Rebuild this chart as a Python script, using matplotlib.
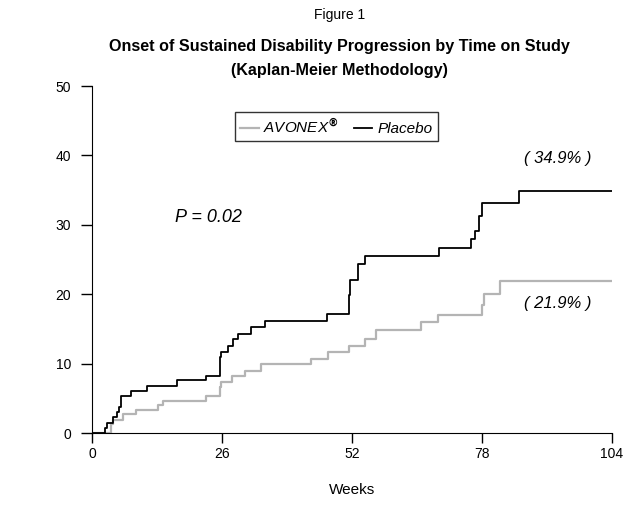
import numpy as np
import matplotlib
matplotlib.use("Agg")
import matplotlib.pyplot as plt

plt.rcParams['font.family'] = ['Liberation Sans', 'DejaVu Sans']

# Kaplan-Meier steps: week of event, cumulative % progressed after it
placebo_weeks = [0, 2.6, 3.05, 4.1, 5.0, 5.4, 5.7, 7.8, 10.9, 16.9, 22.8, 25.6, 25.8,
                 27.2, 28.2, 29.2, 31.8, 34.5, 46.9, 51.4, 51.6, 53.2, 54.6, 69.3,
                 75.8, 76.5, 77.4, 77.9, 85.3, 104]
placebo_pct = [0, 0.7, 1.4, 2.3, 3.0, 3.75, 5.3, 6.1, 6.8, 7.6, 8.2, 11.0, 11.7,
               12.5, 13.5, 14.3, 15.25, 16.2, 17.2, 19.9, 22.0, 24.3, 25.5, 26.6,
               27.9, 29.1, 31.2, 33.1, 34.9, 34.9]

avonex_weeks = [0, 3.8, 4.2, 6.1, 8.8, 13.2, 14.1, 22.8, 25.6, 25.8, 28.0, 30.6, 33.7,
                43.8, 47.1, 51.3, 54.6, 56.7, 65.7, 69.2, 77.9, 78.3, 81.6, 104]
avonex_pct = [0, 1.3, 1.9, 2.7, 3.35, 4.0, 4.6, 5.3, 6.7, 7.4, 8.2, 8.95, 9.9,
              10.7, 11.7, 12.5, 13.6, 14.8, 16.0, 17.0, 18.4, 20.0, 21.9, 21.9]

x_ticks = [0, 26, 52, 78, 104]
y_ticks = [0, 10, 20, 30, 40, 50]

fig = plt.figure(figsize=(6.29, 5.08), dpi=100)
ax = fig.add_axes([0.1463, 0.1476, 0.8267, 0.6831])

ax.step(avonex_weeks, avonex_pct, where='post', color='#b4b4b4', lw=1.6,
        label='AVONEX$^{\\mathbf{®}}$')
ax.step(placebo_weeks, placebo_pct, where='post', color='black', lw=1.3,
        label='Placebo')

ax.set_xlim(0, 104)
ax.set_ylim(0, 50)
ax.set_xticks(x_ticks)
ax.set_yticks(y_ticks)
ax.spines['top'].set_visible(False)
ax.spines['right'].set_visible(False)
ax.tick_params(direction='out', length=8, width=1, labelsize=10, pad=7)
ax.tick_params(axis='x', length=7, pad=3)
ax.set_xlabel('Weeks', fontsize=11, labelpad=16)

leg = ax.legend(loc='upper left', bbox_to_anchor=(0.275, 0.925), ncol=2,
                frameon=True, fancybox=False, handlelength=1.2, handletextpad=0.3,
                columnspacing=1.0, borderpad=0.35, borderaxespad=0.0,
                prop={'style': 'italic', 'size': 11})
leg.get_frame().set_edgecolor('black')
leg.get_frame().set_linewidth(1)

ax.text(16.6, 31.1, 'P = 0.02', style='italic', fontsize=13, va='center')
ax.text(93.2, 39.5, '( 34.9% )', style='italic', fontsize=12, va='center', ha='center')
ax.text(93.2, 18.6, '( 21.9% )', style='italic', fontsize=12, va='center', ha='center')

fig.text(0.54, 0.97, 'Figure 1', ha='center', va='center', fontsize=10)
fig.text(0.54, 0.908, 'Onset of Sustained Disability Progression by Time on Study',
         ha='center', va='center', fontsize=11.6, fontweight='bold')
fig.text(0.54, 0.862, '(Kaplan-Meier Methodology)', ha='center', va='center',
         fontsize=11.6, fontweight='bold')

fig.savefig('out.png', dpi=100)
